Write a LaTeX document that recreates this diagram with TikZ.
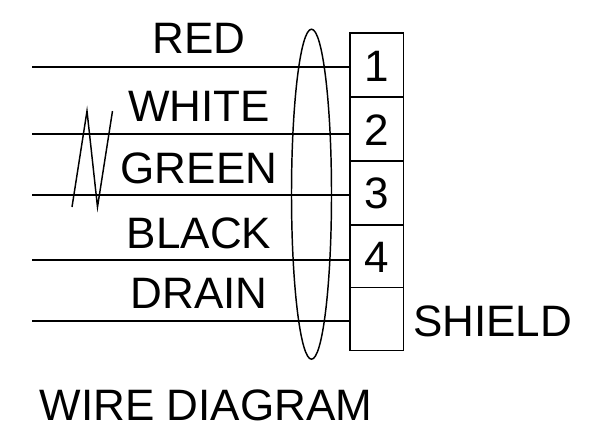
\documentclass[tikz,border=0pt]{standalone}
\usepackage{fontspec}
\setmainfont{Liberation Sans}
\tikzset{
  wire/.style={draw=black,line width=1.1pt},
  lbl/.style={inner sep=0pt,font=\fontsize{33}{33}\selectfont,text=black,anchor=base}
}
\begin{document}
\begin{tikzpicture}[x=0.75pt,y=-0.75pt]
\useasboundingbox (0,0) rectangle (592,425);
\fill[white] (0,0) rectangle (592,425);
\foreach \n/\t/\b/\s/\bl in {t1/33/97/1/81,t2/97/161/2/145,t3/161/225/3/208,t4/225/287.5/4/272,t5/287.5/350.5/{}/330}{
  \draw[wire] (350,\t) rectangle (403.5,\b);
  \node[lbl] (\n) at (377,\bl) {\s};
}
\foreach \n/\y in {a/67,b/134,c/195,d/260,e/321}{\coordinate (\n) at (32,\y);}
\coordinate (p1) at (350,67);\coordinate (p2) at (350,134);\coordinate (p3) at (350,195);\coordinate (p4) at (350,260);\coordinate (p5) at (350,321);
\draw[wire] (a)--(p1);
\draw[wire] (b)--(p2);
\draw[wire] (c)--(p3);
\draw[wire] (d)--(p4);
\draw[wire] (e)--(p5);
\draw[wire] (72,207)--(87,111)--(97.5,207)--(112.5,111);
\draw[wire] (311.5,194.2) ellipse (20 and 165);
\node[lbl] (r) at (199,53) {RED};
\node[lbl] (w) at (199,121.5) {WHITE};
\node[lbl] (g) at (199,183) {GREEN};
\node[lbl] (k) at (199,248) {BLACK};
\node[lbl] (n) at (199,308) {DRAIN};
\node[lbl] (s) at (492.5,336) {SHIELD};
\node[lbl] (t) at (206,420) {WIRE DIAGRAM};
\end{tikzpicture}
\end{document}
